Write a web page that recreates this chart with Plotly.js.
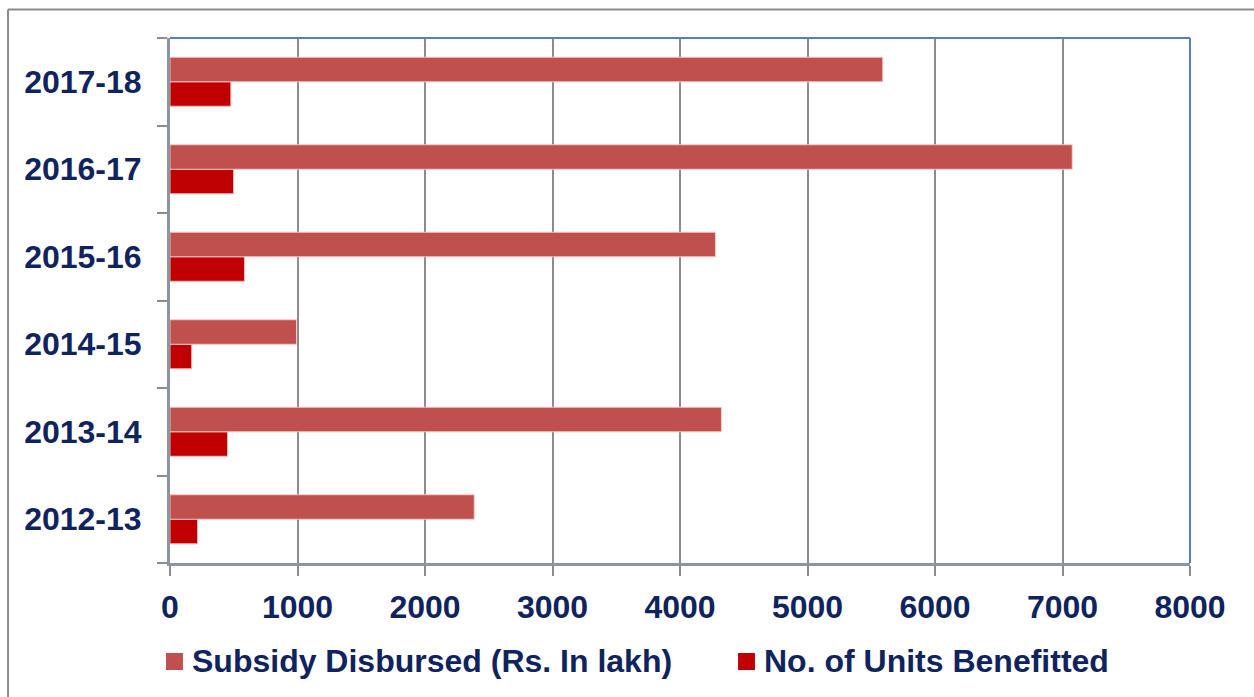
<!DOCTYPE html>
<html>
<head>
<meta charset="utf-8">
<script src="https://cdn.plot.ly/plotly-3.0.1.min.js"></script>
<style>
html,body{margin:0;padding:0;background:#fff;}
#chart{width:1254px;height:697px;}
</style>
</head>
<body>
<div id="chart"></div>
<script>
const years = ["2012-13","2013-14","2014-15","2015-16","2016-17","2017-18"];
const subsidy = [2386, 4325, 992, 4278, 7076, 5590];
const units = [216, 451, 170, 584, 498, 477];
const xTicks = [0,1000,2000,3000,4000,5000,6000,7000,8000];
const seriesNames = ["Subsidy Disbursed (Rs. In lakh)", "No. of Units Benefitted"];
const seriesColors = ["#C0504D", "#C00000"];

const navy = "#0F235E";
const fam = "Liberation Sans, Arial, sans-serif";
const traces = [
  {
    type: "bar", orientation: "h", name: seriesNames[1],
    y: years, x: units,
    marker: {color: seriesColors[1], line: {color: "rgba(255,190,190,0.9)", width: 1}},
    hoverinfo: "x+y+name"
  },
  {
    type: "bar", orientation: "h", name: seriesNames[0],
    y: years, x: subsidy,
    marker: {color: seriesColors[0], line: {color: "rgba(255,200,200,0.9)", width: 1}},
    hoverinfo: "x+y+name"
  }
];

// manual legend (paper coordinates)
const legX = [-0.0039, 0.5569];
const legW = 0.0166;
const legY0 = -0.2038, legY1 = -0.1714, legYc = -0.1867;
const legendShapes = seriesNames.map((n, i) => ({
  type: "rect", xref: "paper", yref: "paper",
  x0: legX[i], x1: legX[i] + legW, y0: legY0, y1: legY1,
  fillcolor: seriesColors[i], line: {width: 0}
}));
const legendAnns = seriesNames.map((n, i) => ({
  xref: "paper", yref: "paper", x: legX[i] + 0.0235, y: legYc,
  xanchor: "left", yanchor: "middle", showarrow: false, text: n,
  font: {size: 32, weight: "bold", color: navy, family: fam}
}));

const layout = {
  width: 1254, height: 697,
  margin: {l: 170, r: 64, t: 38, b: 134},
  paper_bgcolor: "#fff", plot_bgcolor: "#fff",
  barmode: "group", bargap: 0.44, bargroupgap: 0,
  font: {family: fam, color: navy},
  showlegend: false,
  xaxis: {
    range: [0, 8000], tickvals: xTicks, ticktext: xTicks.map(String),
    showgrid: true, gridcolor: "#8c8c8c", gridwidth: 2,
    zeroline: false,
    showline: true, linecolor: "#8c96a0", linewidth: 3,
    ticks: "outside", ticklen: 10, tickcolor: "#8c8c8c", tickwidth: 2,
    ticklabelstandoff: 4,
    tickfont: {size: 32, weight: "bold", color: navy, family: fam},
    fixedrange: true
  },
  yaxis: {
    type: "category", categoryorder: "array", categoryarray: years,
    showgrid: false, zeroline: false,
    showline: true, linecolor: "#8c96a0", linewidth: 3,
    ticks: "outside", tickson: "boundaries", ticklen: 10, tickcolor: "#8c8c8c", tickwidth: 2,
    ticklabelstandoff: 19,
    tickfont: {size: 32, weight: "bold", color: navy, family: fam},
    fixedrange: true
  },
  annotations: legendAnns,
  shapes: [
    {type: "line", xref: "paper", yref: "paper", x0: 0, x1: 1, y0: 1, y1: 1, line: {color: "#4F81BD", width: 2}},
    {type: "line", xref: "paper", yref: "paper", x0: 1, x1: 1, y0: 0, y1: 1, line: {color: "#4F81BD", width: 2}},
    {type: "line", xref: "paper", yref: "paper", x0: -0.1588, x1: -0.1588, y0: 1.0543, y1: -0.4, line: {color: "#8c8c8c", width: 2}},
    {type: "line", xref: "paper", yref: "paper", x0: -0.1588, x1: 1.2, y0: 1.0543, y1: 1.0543, line: {color: "#8c8c8c", width: 2}}
  ].concat(legendShapes)
};

Plotly.newPlot("chart", traces, layout, {displayModeBar: false});
</script>
</body>
</html>
